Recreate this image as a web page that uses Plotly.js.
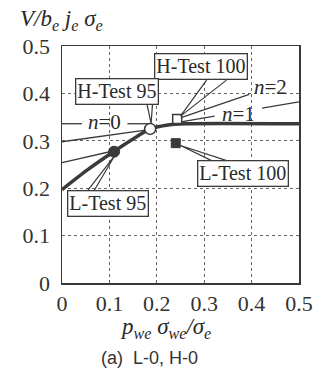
<!DOCTYPE html>
<html>
<head>
<meta charset="utf-8">
<script src="https://cdn.plot.ly/plotly-3.0.1.min.js"></script>
<style>html,body{margin:0;padding:0;background:#fff;}#chart{width:320px;height:376px;}</style>
</head>
<body>
<div id="chart"></div>
<script>
// ---- data ----
const tickVals = [0, 0.1, 0.2, 0.3, 0.4, 0.5];
const tickText = ["0", "0.1", "0.2", "0.3", "0.4", "0.5"];

// thick design curve (envelope)
const envX = [0, 0.05, 0.11, 0.15, 0.186, 0.22, 0.26, 0.5];
const envY = [0.197, 0.236, 0.278, 0.304, 0.325, 0.333, 0.336, 0.336];
// n=0 horizontal line (left part), broken by its label
const n0X = [0, 0.042, null, 0.138, 0.186];
const n0Y = [0.336, 0.336, null, 0.336, 0.336];
// thin curves, left part
const upperLeftX = [0, 0.18];
const upperLeftY = [0.298, 0.323];
const lowerLeftX = [0, 0.11];
const lowerLeftY = [0.254, 0.279];
// thin curves, right part (n=1 broken by its label, n=2)
const n1X = [0.245, 0.322, null, 0.422, 0.5];
const n1Y = [0.339, 0.352, null, 0.369, 0.382];
const n2X = [0.245, 0.395];
const n2Y = [0.347, 0.398];

// test points
const hTest95 = {x: [0.186], y: [0.325]};
const lTest95 = {x: [0.11], y: [0.277]};
const hTest100 = {x: [0.243], y: [0.346]};
const lTest100 = {x: [0.24], y: [0.295]};

// callout labels
const calloutText = ["H-Test 100", "H-Test 95", "L-Test 95", "L-Test 100"];
const calloutX = [0.293, 0.115, 0.098, 0.381];
const calloutY = [0.457, 0.405, 0.167, 0.230];
// callout wedges: apex, then two base points
const wedgeApexX = [0.25, 0.188, 0.112, 0.25];
const wedgeApexY = [0.352, 0.336, 0.27, 0.29];
const wedgeAX = [0.305, 0.179, 0.052, 0.32];
const wedgeBX = [0.347, 0.191, 0.066, 0.354];
const wedgeBaseY = [0.428, 0.379, 0.192, 0.256];

const curveLabels = ["<i>n</i>=0", "<i>n</i>=1", "<i>n</i>=2"];
const curveLabelX = [0.089, 0.372, 0.44];
const curveLabelY = [0.340, 0.357, 0.414];

const ink = '#3a3a3a';
const serif = 'Liberation Serif, Times New Roman, serif';

const traces = [
  {x: n0X, y: n0Y, mode: 'lines', line: {color: ink, width: 1.3}, hoverinfo: 'skip'},
  {x: upperLeftX, y: upperLeftY, mode: 'lines', line: {color: ink, width: 1.3}, hoverinfo: 'skip'},
  {x: lowerLeftX, y: lowerLeftY, mode: 'lines', line: {color: ink, width: 1.3}, hoverinfo: 'skip'},
  {x: n1X, y: n1Y, mode: 'lines', line: {color: ink, width: 1.3}, hoverinfo: 'skip'},
  {x: n2X, y: n2Y, mode: 'lines', line: {color: ink, width: 1.3}, hoverinfo: 'skip'},
  {x: envX, y: envY, mode: 'lines', line: {color: ink, width: 3.5, shape: 'spline', smoothing: 0.6}, hoverinfo: 'skip'},
  {x: hTest95.x, y: hTest95.y, mode: 'markers', marker: {symbol: 'circle', size: 11, color: '#fff', line: {color: ink, width: 1.5}}},
  {x: lTest95.x, y: lTest95.y, mode: 'markers', marker: {symbol: 'circle', size: 11, color: ink, line: {color: ink, width: 1}}},
  {x: hTest100.x, y: hTest100.y, mode: 'markers', marker: {symbol: 'square', size: 9, color: '#fff', line: {color: ink, width: 1.5}}},
  {x: lTest100.x, y: lTest100.y, mode: 'markers', marker: {symbol: 'square', size: 9, color: ink, line: {color: ink, width: 1}}}
];

const shapes = wedgeApexX.map((ax, i) => ({
  type: 'path', xref: 'x', yref: 'y',
  path: `M ${wedgeAX[i]},${wedgeBaseY[i]} L ${ax},${wedgeApexY[i]} L ${wedgeBX[i]},${wedgeBaseY[i]}`,
  line: {color: ink, width: 1.2}, layer: 'above'
}));

const annotations = [];
calloutText.forEach((t, i) => annotations.push({
  x: calloutX[i], y: calloutY[i], xref: 'x', yref: 'y', text: t, showarrow: false,
  font: {family: serif, size: 20, color: '#2a2a2a'},
  bgcolor: '#fff', bordercolor: ink, borderwidth: 1.3, borderpad: 1
}));
curveLabels.forEach((t, i) => annotations.push({
  x: curveLabelX[i], y: curveLabelY[i], xref: 'x', yref: 'y', text: t, showarrow: false,
  font: {family: serif, size: 21, color: '#2a2a2a'}
}));
annotations.push({
  xref: 'paper', yref: 'paper', x: -0.186, y: 1.11, xanchor: 'left', yanchor: 'middle',
  text: '<i>V/b<sub>e</sub> j<sub>e</sub> σ<sub>e</sub></i>', showarrow: false,
  font: {family: serif, size: 23, color: '#2a2a2a'}
});
annotations.push({
  xref: 'paper', yref: 'paper', x: 0.435, y: -0.19, xanchor: 'center', yanchor: 'middle',
  text: '<i>p<sub>we</sub> σ<sub>we</sub>/σ<sub>e</sub></i>', showarrow: false,
  font: {family: serif, size: 23, color: '#2a2a2a'}
});
annotations.push({
  xref: 'paper', yref: 'paper', x: 0.369, y: -0.316, xanchor: 'center', yanchor: 'middle',
  text: '(a)  L-0, H-0', showarrow: false,
  font: {family: 'Liberation Sans, Arial, sans-serif', size: 18, color: '#333'}
});

const axisCommon = {
  range: [0, 0.5], tickvals: tickVals, ticktext: tickText,
  showgrid: true, gridcolor: '#666', griddash: 'dot', gridwidth: 1,
  showline: true, mirror: true, linecolor: ink, linewidth: 1.5,
  zeroline: false, ticks: '', fixedrange: true,
  tickfont: {family: serif, size: 22, color: '#333'}
};

const layout = {
  width: 320, height: 376,
  margin: {l: 62, r: 21, t: 46, b: 93},
  paper_bgcolor: '#fff', plot_bgcolor: '#fff',
  showlegend: false,
  xaxis: Object.assign({}, axisCommon, {ticklabelstandoff: 0}),
  yaxis: Object.assign({}, axisCommon, {ticklabelstandoff: 6}),
  shapes: shapes,
  annotations: annotations
};

Plotly.newPlot('chart', traces, layout, {staticPlot: true, displayModeBar: false});
</script>
</body>
</html>
